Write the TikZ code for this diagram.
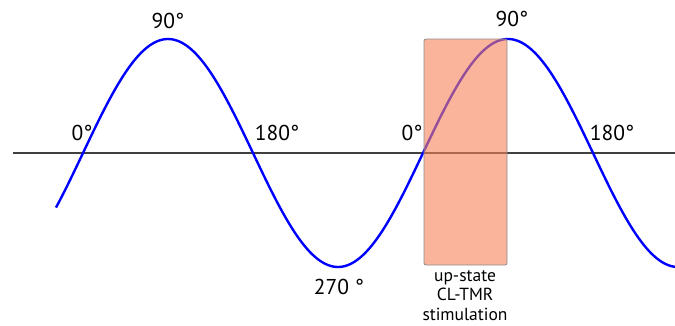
\documentclass[tikz,border=0pt]{standalone}
\usepackage{fontspec}
\setmainfont{PT Sans}
\begin{document}
\begin{tikzpicture}[x=1pt,y=-1pt,
  deg/.style={font=\fontsize{21.5}{24}\selectfont, inner sep=0pt, text=black},
  note/.style={font=\fontsize{17.5}{19.5}\selectfont, inner sep=0pt, align=center},
  wave/.style={draw=blue, line width=2.4pt},
  axisline/.style={draw=black!75, line width=1.2pt}]
\useasboundingbox (0,0) rectangle (675,325);
\coordinate (axL) at (13,153);
\coordinate (axR) at (675,153);
\draw[axisline] (axL) -- (axR);
\draw[wave] plot[domain=56:675,samples=240] (\x,{153-114*sin((\x-83)/340*360)});
\node[draw=black!45, line width=0.8pt, rounded corners=2pt, fill={rgb,255:red,247;green,130;blue,88}, fill opacity=0.6, minimum width=83pt, minimum height=226pt, inner sep=0pt] (box) at (465.5,152) {};
\node[deg] (l0a) at (82,133) {0°};
\node[deg] (l90a) at (168,21) {90°};
\node[deg] (l180a) at (277,133) {180°};
\node[deg] (l270) at (339,287) {270 °};
\node[deg] (l0b) at (412,133) {0°};
\node[deg] (l90b) at (512,19) {90°};
\node[deg] (l180b) at (612,133) {180°};
\node[note, anchor=north] (txt) at (465,270) {up-state\\CL-TMR\\stimulation};
\end{tikzpicture}
\end{document}
